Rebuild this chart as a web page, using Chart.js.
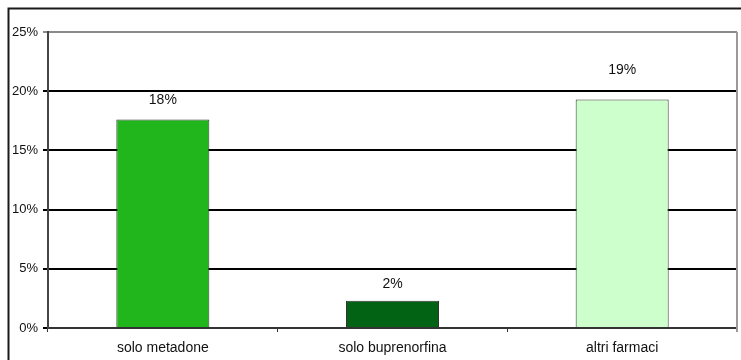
<!DOCTYPE html>
<html>
<head>
<meta charset="utf-8">
<script src="https://cdn.jsdelivr.net/npm/chart.js@4/dist/chart.umd.min.js"></script>
<style>
  html, body { margin:0; padding:0; background:#fff; }
  #wrap { width:741px; height:360px; position:relative; }
</style>
</head>
<body>
<div id="wrap"><canvas id="c"></canvas></div>
<script>
// categorie e quote (frazioni)
const categories = ['solo metadone', 'solo buprenorfina', 'altri farmaci'];
const shares = [0.176, 0.023, 0.193];
const barColors = ['#21b61b', '#036315', '#ccffcc'];
const yTicks = [0, 0.05, 0.10, 0.15, 0.20, 0.25];
const labelLift = [19, 17, 29];   // distanza etichetta-barra (px)

const FONT = 'Arial, "Liberation Sans", sans-serif';
const pct = v => Math.round(v * 100) + '%';

// cornice esterna + bordo destro dell'area grafico
const frame = {
  id: 'frame',
  beforeDraw(chart){
    const ctx = chart.ctx;
    ctx.save();
    ctx.fillStyle = '#fff';
    ctx.fillRect(0, 0, chart.width, chart.height);
    ctx.strokeStyle = '#1a1a1a'; ctx.lineWidth = 2;
    ctx.beginPath();
    ctx.moveTo(8.5, chart.height); ctx.lineTo(8.5, 8.5); ctx.lineTo(chart.width, 8.5);
    ctx.stroke();
    ctx.restore();
  },
  afterDraw(chart){
    const {ctx, chartArea:a} = chart;
    ctx.save();
    ctx.strokeStyle = '#999'; ctx.lineWidth = 2;
    ctx.beginPath(); ctx.moveTo(a.right, a.top); ctx.lineTo(a.right, a.bottom + 4); ctx.stroke();
    ctx.restore();
  }
};

// etichette percentuali sopra le barre
const valueLabels = {
  id: 'valueLabels',
  afterDatasetsDraw(chart){
    const ctx = chart.ctx;
    const meta = chart.getDatasetMeta(0);
    ctx.save();
    ctx.font = '14px ' + FONT;
    ctx.fillStyle = '#111';
    ctx.textAlign = 'center'; ctx.textBaseline = 'middle';
    meta.data.forEach((bar, i) => {
      ctx.fillText(pct(shares[i]), bar.x, bar.y - labelLift[i]);
    });
    ctx.restore();
  }
};

new Chart(document.getElementById('c'), {
  type: 'bar',
  data: {
    labels: categories,
    datasets: [{
      data: shares,
      backgroundColor: barColors,
      borderColor: '#333',
      borderWidth: 1,
      barPercentage: 0.405,
      categoryPercentage: 1
    }]
  },
  options: {
    animation: false, responsive: true, maintainAspectRatio: false,
    layout: { padding: { left: 0, top: 32, right: 4, bottom: 0 } },
    plugins: { legend: { display: false }, tooltip: { enabled: false } },
    scales: {
      x: {
        grid: { drawOnChartArea: false, drawTicks: true, tickLength: 4, color: '#333', offset: true },
        border: { color: '#333', width: 2 },
        ticks: { color: '#111', font: { family: FONT, size: 14 }, padding: 8 },
        afterFit(s){ s.height = 32; }
      },
      y: {
        min: 0, max: 0.25,
        afterBuildTicks(s){ s.ticks = yTicks.map(v => ({ value: v })); },
        grid: {
          tickLength: 5, lineWidth: 2,
          color: c => c.tick && c.tick.value >= 0.25 ? '#8a8a8a' : '#000'
        },
        border: { color: '#444', width: 2 },
        ticks: { color: '#111', font: { family: FONT, size: 13 }, padding: 5, callback: v => pct(v) },
        afterFit(s){ s.width = 48; }
      }
    }
  },
  plugins: [frame, valueLabels]
});
</script>
</body>
</html>
